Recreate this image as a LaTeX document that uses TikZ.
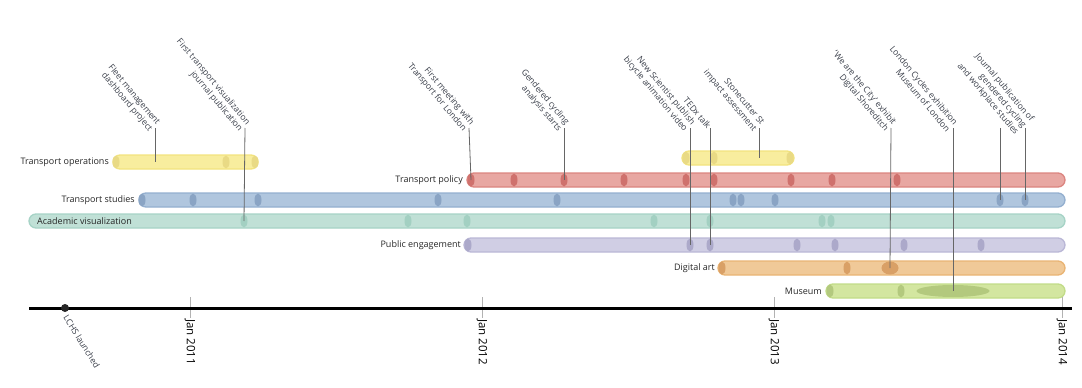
\documentclass[tikz,border=0pt]{standalone}
\usepackage{fontspec}
\setmainfont{Open Sans}
\usepackage{xcolor}
\usetikzlibrary{shapes.geometric}

% bar colours
\definecolor{opsfill}{HTML}{F8ED9E}
\definecolor{opsline}{HTML}{F2E37E}
\definecolor{opsmark}{HTML}{E9DA85}
\definecolor{polfill}{HTML}{E8A7A2}
\definecolor{polline}{HTML}{DB8580}
\definecolor{polmark}{HTML}{CF716D}
\definecolor{stufill}{HTML}{B0C6DE}
\definecolor{stuline}{HTML}{94AFCF}
\definecolor{stumark}{HTML}{8AA4C4}
\definecolor{acafill}{HTML}{C0E0D6}
\definecolor{acaline}{HTML}{A6D3C6}
\definecolor{acamark}{HTML}{A3D0C2}
\definecolor{pubfill}{HTML}{D0CEE4}
\definecolor{publine}{HTML}{BAB7D6}
\definecolor{pubmark}{HTML}{ACA9CA}
\definecolor{artfill}{HTML}{F0C998}
\definecolor{artline}{HTML}{E9B474}
\definecolor{artmark}{HTML}{D9A066}
\definecolor{musfill}{HTML}{D3E6A0}
\definecolor{musline}{HTML}{C2DC88}
\definecolor{musmark}{HTML}{B3C97E}
\definecolor{notetext}{HTML}{3A3F4A}

\begin{document}
\begin{tikzpicture}[x=1pt, y=-1pt,
    barpath/.style={rounded corners=7pt, line width=1.3pt},
    evt/.style={ellipse, inner sep=0pt, minimum width=7pt, minimum height=13pt, draw=none},
    lbl/.style={font=\fontsize{9}{10}\selectfont, text=black!85, inner sep=2pt},
    note/.style={font=\fontsize{8.6}{10}\selectfont, text=notetext, rotate=-50, align=right, inner sep=1pt},
    leader/.style={draw=black!60, line width=0.8pt},
    tick/.style={draw=black!30, line width=1pt},
    yearlbl/.style={font=\fontsize{11.5}{13}\selectfont, rotate=-90, anchor=west, inner sep=1pt}]
\useasboundingbox (0,0) rectangle (1082,388);

%bars
\draw[barpath, fill=opsfill, draw=opsline] (113,155) rectangle (258,169);
\draw[barpath, fill=opsfill, draw=opsline] (682,151) rectangle (794,165);
\draw[barpath, fill=polfill, draw=polline] (467,173) rectangle (1065,187);
\draw[barpath, fill=stufill, draw=stuline] (139,193) rectangle (1065,207);
\draw[barpath, fill=acafill, draw=acaline] (29,214) rectangle (1065,228);
\draw[barpath, fill=pubfill, draw=publine] (464,238) rectangle (1065,252);
\draw[barpath, fill=artfill, draw=artline] (718,261) rectangle (1065,275);
\draw[barpath, fill=musfill, draw=musline] (826,284) rectangle (1065,298);

%labels
\node[lbl, anchor=east] (lops) at (111,162) {Transport operations};
\node[lbl, anchor=east] (lpol) at (465,180) {Transport policy};
\node[lbl, anchor=east] (lstu) at (137,200) {Transport studies};
\node[lbl, anchor=west] (laca) at (35,221) {Academic visualization};
\node[lbl, anchor=east] (lpub) at (463,245) {Public engagement};
\node[lbl, anchor=east] (lart) at (717,268) {Digital art};
\node[lbl, anchor=east] (lmus) at (824,291) {Museum};

% events on each bar
\foreach \x [count=\i] in {116,226,255}
    \node[evt, fill=opsmark] (ops\i) at (\x,162) {};
\foreach \x [count=\i] in {686,714,790}
    \node[evt, fill=opsmark] (opsb\i) at (\x,158) {};
\foreach \x [count=\i] in {471,514,564,624,686,714,791,832,897}
    \node[evt, fill=polmark] (pol\i) at (\x,180) {};
\foreach \x [count=\i] in {142,193,258,438,557,733,741,775,1000,1025}
    \node[evt, fill=stumark] (stu\i) at (\x,200) {};
\foreach \x [count=\i] in {244,408,467,654,710,822,831}
    \node[evt, fill=acamark] (aca\i) at (\x,221) {};
\foreach \x [count=\i] in {468,690,710,797,835,904,981}
    \node[evt, fill=pubmark] (pub\i) at (\x,245) {};
\foreach \x [count=\i] in {722,847}
    \node[evt, fill=artmark] (art\i) at (\x,268) {};
\node[evt, fill=artmark, minimum width=17pt, minimum height=13pt] (artbig) at (890,268) {};
\foreach \x [count=\i] in {830,901}
    \node[evt, fill=musmark] (mus\i) at (\x,291) {};
\node[evt, fill=musmark, minimum width=73pt, minimum height=12pt] (musbig) at (953,291) {};
\coordinate (fleetend) at (155,162);
\coordinate (stoneend) at (759,158);

% annotations
\node[note, anchor=east] (nfleet) at (155,128) {Fleet management\\dashboard project};
\node[note, anchor=east] (njour) at (245,128) {First transport visualization\\journal publication};
\node[note, anchor=east] (ntfl) at (469,128) {First meeting with\\Transport for London};
\node[note, anchor=east] (ngend) at (564,128) {Gendered cycling\\analysis starts};
\node[note, anchor=east] (nsci) at (690,128) {New Scientist publish\\bicycle animation video};
\node[note, anchor=east] (nted) at (710,128) {TEDx talk};
\node[note, anchor=east] (nstone) at (759,128) {Stonecutter St\\impact assessment};
\node[note, anchor=east] (ncity) at (891,128) {‘We are the City’ exhibit\\Digital Shoreditch};
\node[note, anchor=east] (nlcyc) at (953,128) {London Cycles exhibition\\Museum of London};
\node[note, anchor=east] (nwork) at (1025,128) {Journal publication of\\gendered cycling\\and workplace studies};
\coordinate (nworkb) at (1000,128);

\draw[leader] (nfleet.east) -- (fleetend);
\draw[leader] (njour.east) -- (aca1.center);
\draw[leader] (ntfl.east) -- (pol1.center);
\draw[leader] (ngend.east) -- (pol3.center);
\draw[leader] (nsci.east) -- (pub2.center);
\draw[leader] (nted.east) -- (pub3.center);
\draw[leader] (nstone.east) -- (stoneend);
\draw[leader] (ncity.east) -- (artbig.center);
\draw[leader] (nlcyc.east) -- (musbig.center);
\draw[leader] (nwork.east) -- (stu10.center);
\draw[leader] (nworkb) -- (stu9.center);

%time axis
\coordinate (axl) at (29,308);
\coordinate (axr) at (1072,308);
\foreach \x/\yr in {190/2011,482/2012,774/2013,1062/2014}{
    \draw[tick] (\x,297) coordinate (t\yr) -- (\x,318) coordinate (b\yr);
    \node[yearlbl] (y\yr) at (b\yr) {Jan \yr};
}
\draw[line width=3pt, black] (axl) -- (axr);
\node[circle, fill=black!85, inner sep=0pt, minimum size=8pt] (lchs) at (65,308) {};
\node[note, rotate=-8, anchor=north west, xshift=2pt] (nlchs) at (lchs.south east) {LCHS launched};
\end{tikzpicture}
\end{document}
